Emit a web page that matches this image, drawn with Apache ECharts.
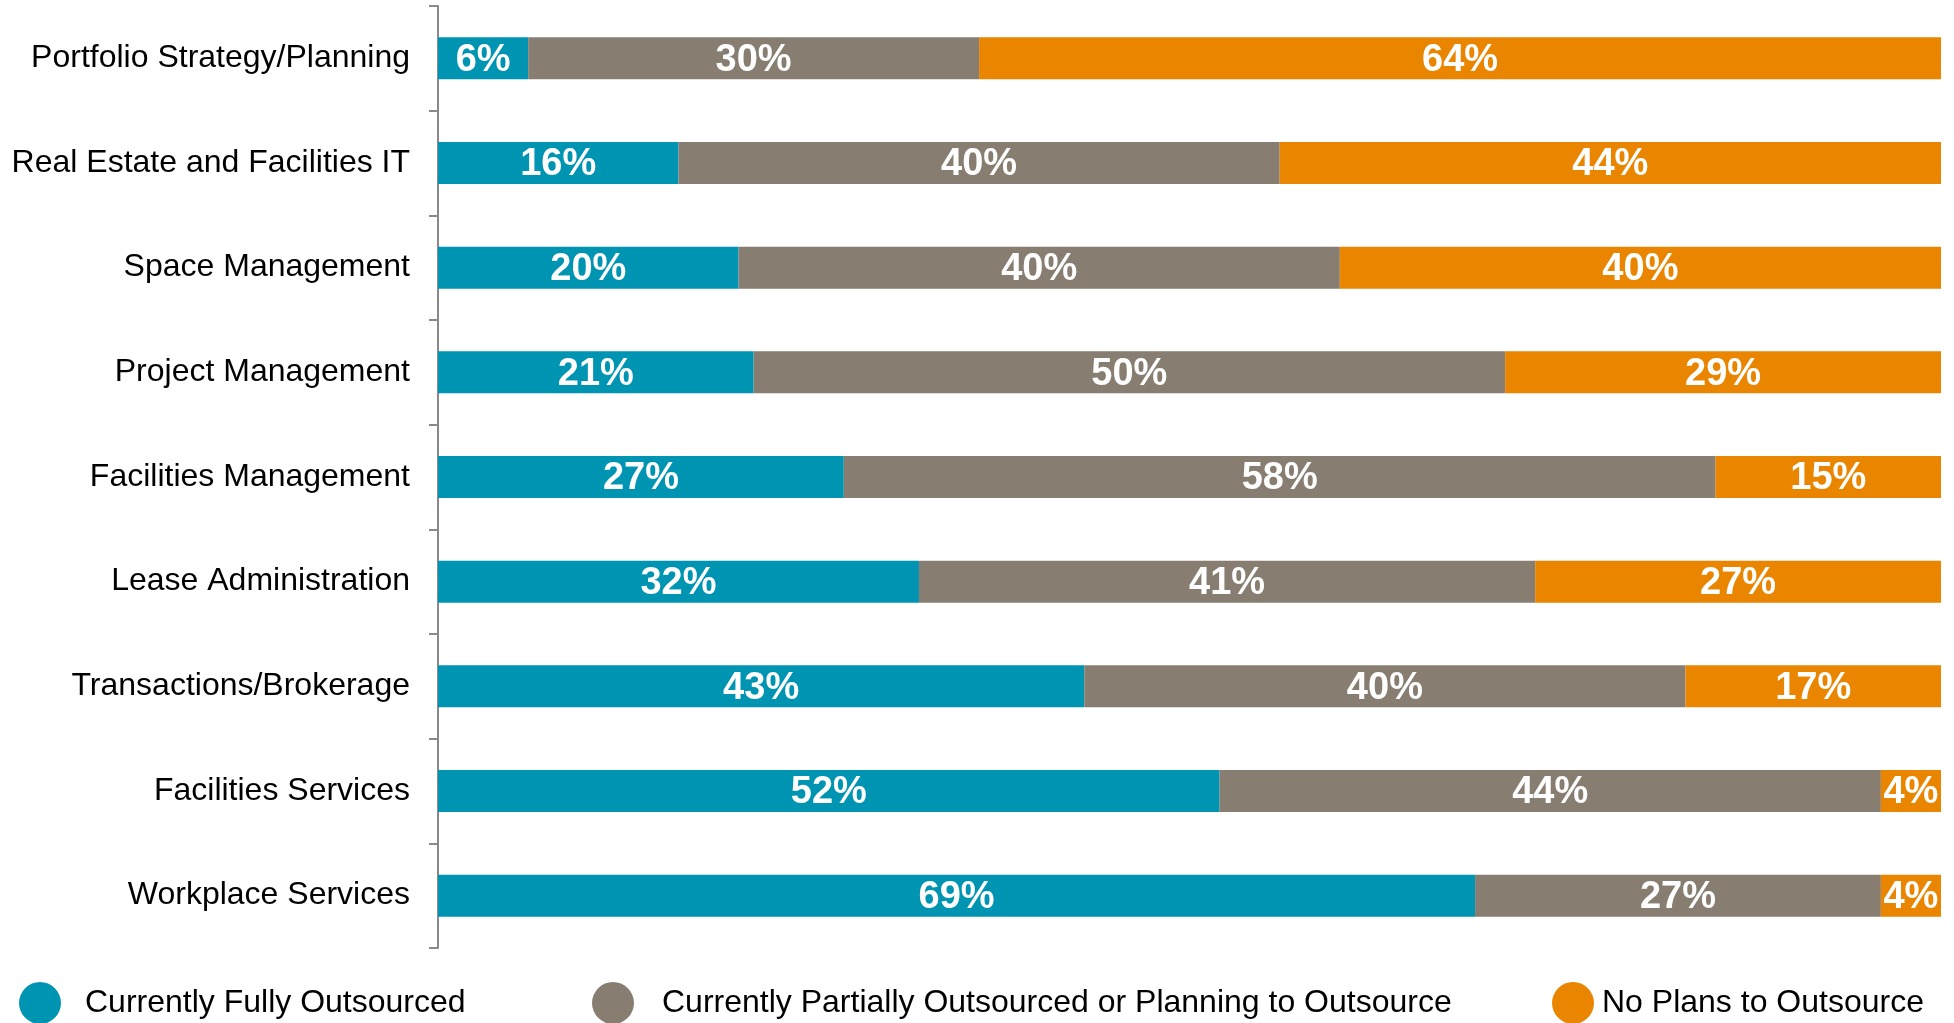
<!DOCTYPE html>
<html>
<head>
<meta charset="utf-8">
<script src="https://cdn.jsdelivr.net/npm/echarts@6/dist/echarts.min.js"></script>
<style>
  html, body { margin: 0; padding: 0; background: #fff; }
  #chart { width: 1954px; height: 1023px; }
</style>
</head>
<body>
<div id="chart"></div>
<script>
// categories, top to bottom
const categories = [
  'Portfolio Strategy/Planning',
  'Real Estate and Facilities IT',
  'Space Management',
  'Project Management',
  'Facilities Management',
  'Lease Administration',
  'Transactions/Brokerage',
  'Facilities Services',
  'Workplace Services'
];
const seriesNames = [
  'Currently Fully Outsourced',
  'Currently Partially Outsourced or Planning to Outsource',
  'No Plans to Outsource'
];
const fullyOutsourced = [6, 16, 20, 21, 27, 32, 43, 52, 69];
const partiallyOutsourced = [30, 40, 40, 50, 58, 41, 40, 44, 27];
const noPlans = [64, 44, 40, 29, 15, 27, 17, 4, 4];

const colors = ['#0094b3', '#877e71', '#ea8500'];
const font = "'Liberation Sans', Arial, sans-serif";

const chart = echarts.init(document.getElementById('chart'));

function barSeries(name, data, color) {
  return {
    name: name,
    type: 'bar',
    stack: 'total',
    barWidth: 42,
    data: data,
    itemStyle: { color: color },
    label: {
      show: true,
      position: 'inside',
      offset: [0, 2],
      formatter: '{c}%',
      color: '#fff',
      fontFamily: font,
      fontWeight: 'bold',
      fontSize: 38
    },
    emphasis: { disabled: true }
  };
}

// one legend per item so each can sit where the reference puts it
function legendItem(name, left, gap, padTop, padBottom) {
  return {
    data: [name],
    left: left,
    top: 977,
    orient: 'horizontal',
    icon: 'circle',
    itemWidth: 42,
    itemHeight: 42,
    selectedMode: false,
    textStyle: {
      fontFamily: font,
      fontSize: 32,
      color: '#000',
      padding: [padTop, 0, padBottom, gap]
    }
  };
}

const option = {
  animation: false,
  color: colors,
  grid: {
    left: 438,
    right: 13,
    top: 6,
    bottom: 75,
    containLabel: false
  },
  legend: [
    legendItem(seriesNames[0], 14, 19, 0, 6),
    legendItem(seriesNames[1], 587, 23, 0, 6),
    legendItem(seriesNames[2], 1547, 3, 16, 0)
  ],
  xAxis: {
    type: 'value',
    min: 0,
    max: 100,
    show: false
  },
  yAxis: {
    type: 'category',
    data: categories,
    inverse: true,
    axisLine: { show: true, lineStyle: { color: '#8a8a8a', width: 2 } },
    axisTick: { show: true, length: 9, lineStyle: { color: '#8a8a8a', width: 2 } },
    axisLabel: {
      margin: 28,
      padding: [5, 0, 0, 0],
      color: '#000',
      fontFamily: font,
      fontSize: 32
    },
    splitLine: { show: false }
  },
  series: [
    barSeries(seriesNames[0], fullyOutsourced, colors[0]),
    barSeries(seriesNames[1], partiallyOutsourced, colors[1]),
    barSeries(seriesNames[2], noPlans, colors[2])
  ]
};

chart.setOption(option);
</script>
</body>
</html>
